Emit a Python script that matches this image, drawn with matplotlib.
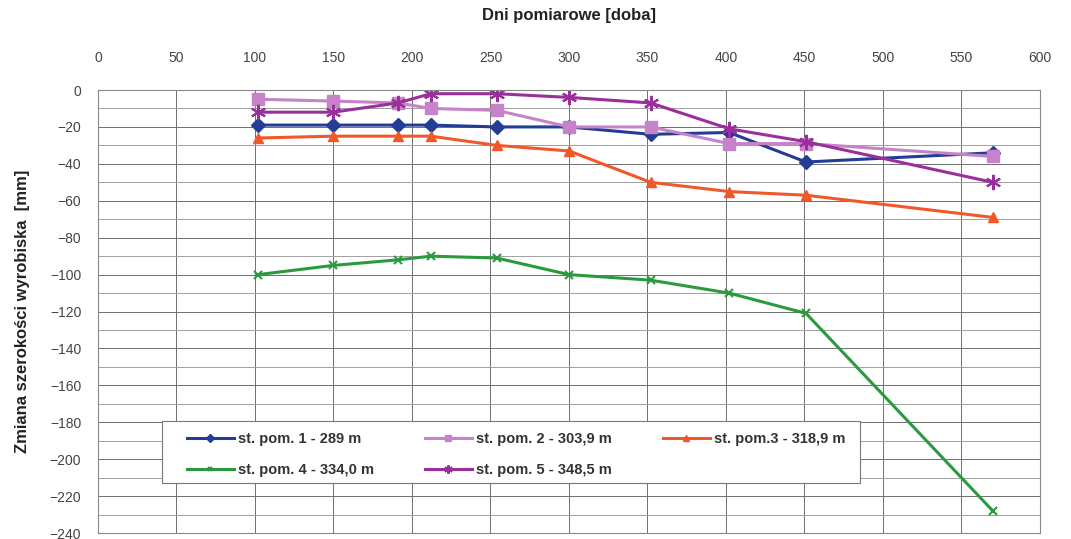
import numpy as np
import matplotlib
matplotlib.use('Agg')
import matplotlib.pyplot as plt
from matplotlib.ticker import MultipleLocator
from matplotlib.patches import Rectangle

plt.rcParams['font.family'] = ['Liberation Sans', 'DejaVu Sans']

# dni pomiarowe
dni = [102, 150, 191, 212, 254, 300, 352, 402, 451, 570]

# zmiana szerokosci [mm] dla kazdej stacji
st1 = [-19, -19, -19, -19, -20, -20, -24, -23, -39, -34]
st2 = [-5, -6, -7, -10, -11, -20, -20, -29, -29, -36]
st3 = [-26, -25, -25, -25, -30, -33, -50, -55, -57, -69]
st4 = [-100, -95, -92, -90, -91, -100, -103, -110, -121, -228]
st5 = [-12, -12, -7, -2, -2, -4, -7, -21, -28, -50]

etykiety = ['st. pom. 1 - 289 m', 'st. pom. 2 - 303,9 m', 'st. pom.3 - 318,9 m',
            'st. pom. 4 - 334,0 m', 'st. pom. 5 - 348,5 m']

fig = plt.figure(figsize=(10.71, 5.39), dpi=100)
ax = fig.add_axes([0.0915, 0.011, 0.8795, 0.822])

l1, = ax.plot(dni, st1, color='#233d96', marker='D', ms=7, lw=2.2)
l2, = ax.plot(dni, st2, color='#c683c9', marker='s', ms=9, lw=2.2)
l3, = ax.plot(dni, st3, color='#f0582a', marker='^', ms=7, lw=2.2)
l4, = ax.plot(dni, st4, color='#2b9a3f', marker='x', ms=6, mew=1.5, lw=2.2)
l5, = ax.plot(dni, st5, color='#9a2f9c', marker=(6, 2, 0), ms=11, mew=1.5, lw=2.2)

ax.set_xlim(0, 600)
ax.set_ylim(-240, 0)
ax.xaxis.set_major_locator(MultipleLocator(50))
ax.yaxis.set_major_locator(MultipleLocator(20))
ax.yaxis.set_minor_locator(MultipleLocator(10))
ax.xaxis.tick_top()
ax.xaxis.set_label_position('top')
ax.tick_params(axis='x', which='both', length=0, labelsize=10, colors='#444444', pad=18)
ax.tick_params(axis='y', which='both', length=0, labelsize=10, colors='#444444', pad=12)

ax.grid(which='major', axis='both', color='#6f6f6f', lw=0.7)
ax.grid(which='minor', axis='y', color='#a0a0a0', lw=0.7)
ax.set_axisbelow(True)
for s in ax.spines.values():
    s.set_color('#888888')
    s.set_linewidth(0.8)

ax.set_xlabel('Dni pomiarowe [doba]', fontsize=12, fontweight='bold', color='#222222', labelpad=22)
ax.set_ylabel('Zmiana szerokości wyrobiska  [mm]', fontsize=12, fontweight='bold', color='#222222', labelpad=14)

# ramka legendy rysowana osobno
ramka = Rectangle((0.068, 0.113), 0.741, 0.140, transform=ax.transAxes,
                  facecolor='white', edgecolor='#777777', lw=0.8, zorder=4)
ax.add_patch(ramka)

# legenda wierszami: 1,2,3 / 4,5
uchwyty = [l1, l4, l2, l5, l3]
opisy = [etykiety[0], etykiety[3], etykiety[1], etykiety[4], etykiety[2]]
leg = ax.legend(uchwyty, opisy, loc='upper left', bbox_to_anchor=(0.0945, 0.229),
                ncol=3, fontsize=10.5, frameon=False,
                handlelength=3.2, handletextpad=0.3, columnspacing=3.5,
                borderpad=0, labelspacing=1.2, markerscale=0.55,
                borderaxespad=0)
leg.set_zorder(5)
for t in leg.get_texts():
    t.set_fontweight('bold')
    t.set_color('#333333')

fig.savefig('out.png', dpi=100)
